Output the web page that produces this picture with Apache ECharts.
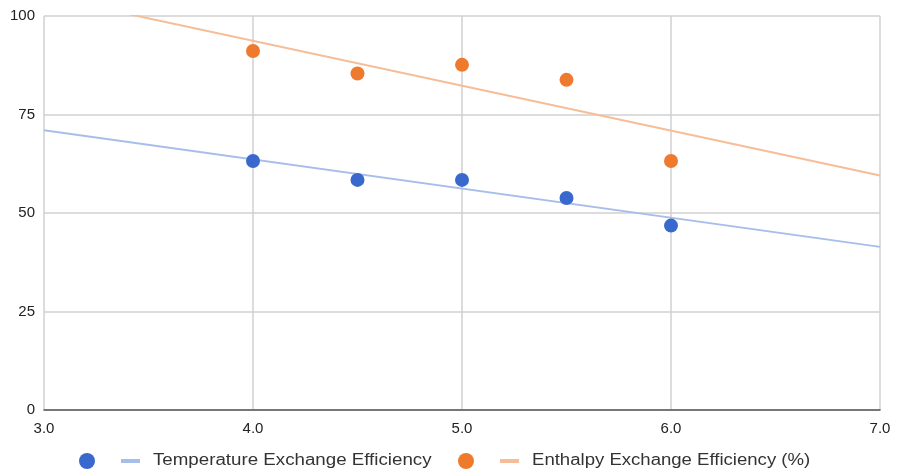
<!DOCTYPE html>
<html><head><meta charset="utf-8">
<script src="https://cdn.jsdelivr.net/npm/echarts@6/dist/echarts.min.js"></script>
<style>html,body{margin:0;padding:0;background:#fff}#c{width:898px;height:472px}</style>
</head><body><div id="c"></div>
<script>
const xValues = [4.0, 4.5, 5.0, 5.5, 6.0];
const temperatureEff = [63.2, 58.4, 58.4, 53.8, 46.8];
const enthalpyEff = [91.1, 85.4, 87.6, 83.8, 63.2];
const trendX = [3.0, 7.0];
const temperatureTrend = [71.0, 41.4];
const enthalpyTrend = [105.1, 59.5];
const yTicks = [0, 25, 50, 75, 100];
const xTicks = [3.0, 4.0, 5.0, 6.0, 7.0];
const names = ['Temperature Exchange Efficiency', 'Enthalpy Exchange Efficiency (%)'];

const blue = '#3A69CE', orange = '#EE7A2E';
const blueLine = '#A8BEEA', orangeLine = '#F6BD98';
const font = "'Liberation Sans', Arial, sans-serif";

const chart = echarts.init(document.getElementById('c'));
const pairs = (xs, ys) => xs.map((x, i) => [x, ys[i]]);
chart.setOption({
  animation: false,
  textStyle: { fontFamily: font },
  grid: { left: 44, right: 18, top: 16, bottom: 62 },
  xAxis: {
    type: 'value', min: xTicks[0], max: xTicks[xTicks.length - 1], interval: 1,
    axisLine: { lineStyle: { color: '#555', width: 1.5 } },
    axisTick: { show: false },
    axisLabel: { color: '#222', fontSize: 15, fontFamily: font, margin: 11, formatter: v => v.toFixed(1) },
    splitLine: { show: true, lineStyle: { color: '#d0d0d0', width: 1.5 } }
  },
  yAxis: {
    type: 'value', min: yTicks[0], max: yTicks[yTicks.length - 1], interval: 25,
    axisLine: { show: false }, axisTick: { show: false },
    axisLabel: { color: '#222', fontSize: 15, fontFamily: font, margin: 9 },
    splitLine: { show: true, lineStyle: { color: '#d0d0d0', width: 1.5 } }
  },
  series: [
    { type: 'line', name: names[0] + ' trend', data: pairs(trendX, temperatureTrend), symbol: 'none',
      lineStyle: { color: blueLine, width: 2 }, clip: true, z: 2 },
    { type: 'line', name: names[1] + ' trend', data: pairs(trendX, enthalpyTrend), symbol: 'none',
      lineStyle: { color: orangeLine, width: 2 }, clip: true, z: 2 },
    { type: 'scatter', name: names[0], data: pairs(xValues, temperatureEff), symbolSize: 14,
      itemStyle: { color: blue, opacity: 1 }, z: 3 },
    { type: 'scatter', name: names[1], data: pairs(xValues, enthalpyEff), symbolSize: 14,
      itemStyle: { color: orange, opacity: 1 }, z: 3 }
  ],
  graphic: [
    { type: 'circle', shape: { cx: 87, cy: 461, r: 8 }, style: { fill: blue } },
    { type: 'rect', shape: { x: 121, y: 459, width: 19, height: 4 }, style: { fill: blueLine } },
    { type: 'text', x: 153, y: 461, scaleX: 1.17,
      style: { text: names[0], fill: '#333', fontSize: 16, fontFamily: font, verticalAlign: 'middle' } },
    { type: 'circle', shape: { cx: 466, cy: 461, r: 8 }, style: { fill: orange } },
    { type: 'rect', shape: { x: 500, y: 459, width: 19, height: 4 }, style: { fill: orangeLine } },
    { type: 'text', x: 532, y: 461, scaleX: 1.16,
      style: { text: names[1], fill: '#333', fontSize: 16, fontFamily: font, verticalAlign: 'middle' } }
  ]
});
</script></body></html>
